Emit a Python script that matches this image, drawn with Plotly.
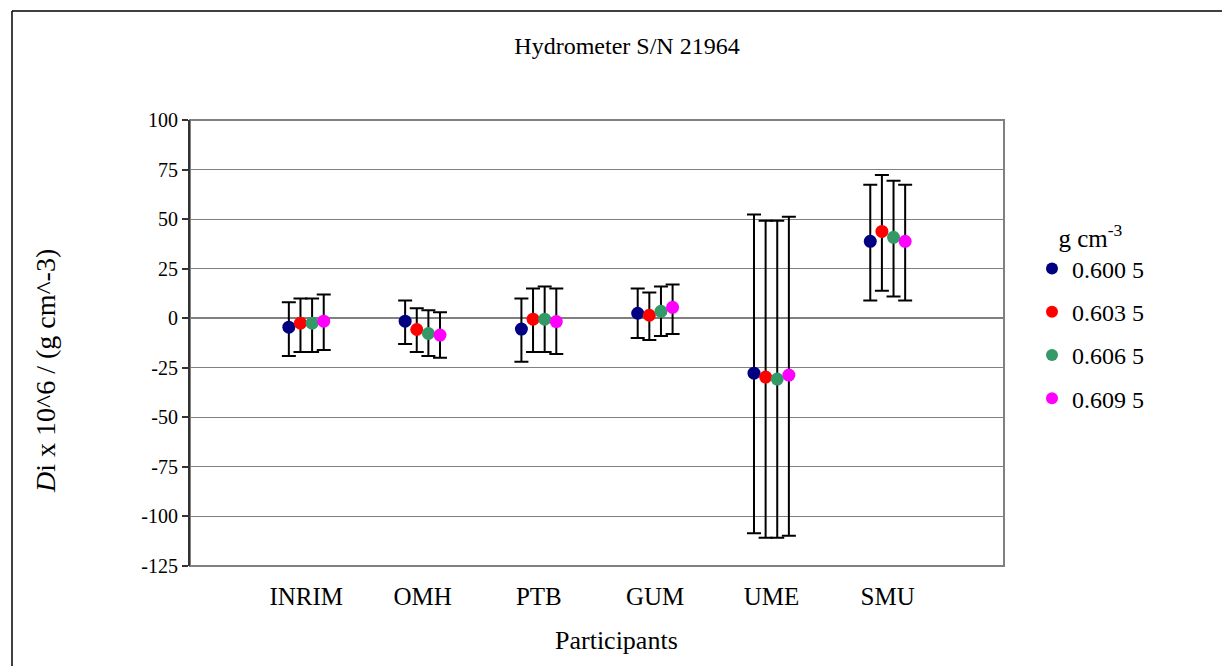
import plotly.graph_objects as go

participants = ["INRIM", "OMH", "PTB", "GUM", "UME", "SMU"]
series_names = ["0.600 5", "0.603 5", "0.606 5", "0.609 5"]
colors = ["#000080", "#FF0000", "#339966", "#FF00FF"]
offsets = [-0.15, -0.05, 0.05, 0.15]

# values (Di x 10^6 / g cm^-3) and read-off error bar ends
val_6005 = [-4.5, -1.5, -5.5, 2.5, -27.7, 38.8]
up_6005 = [8, 9, 10, 15, 52.3, 67.3]
lo_6005 = [-19, -13, -22, -10, -108.5, 8.9]

val_6035 = [-2.5, -5.7, -0.5, 1.5, -29.7, 43.8]
up_6035 = [10, 5, 15, 13, 49.2, 72.3]
lo_6035 = [-17, -17, -17, -11, -110.7, 13.9]

val_6065 = [-2.5, -7.7, -0.5, 3.5, -30.7, 40.8]
up_6065 = [10, 4, 16, 16, 49.2, 69.3]
lo_6065 = [-17, -19, -17, -9, -110.7, 10.9]

val_6095 = [-1.5, -8.5, -1.7, 5.5, -28.7, 38.8]
up_6095 = [12, 3, 15, 17, 51.2, 67.3]
lo_6095 = [-16, -20, -18, -8, -109.7, 8.9]

y_ticks = [100, 75, 50, 25, 0, -25, -50, -75, -100, -125]
y_tick_labels = ["100", "75", "50", "25", "0", "-25", "-50", "-75", "-100", "-125"]

vals = [val_6005, val_6035, val_6065, val_6095]
ups = [up_6005, up_6035, up_6065, up_6095]
los = [lo_6005, lo_6035, lo_6065, lo_6095]

FONT = "Liberation Serif, Times New Roman, DejaVu Serif, serif"

# plot area in pixels
L, R, T, B = 190, 1004, 120, 566
W, H = 1222, 666
def px(x):
    return (x - L) / (R - L)
def py(y):
    return (B - y) / (B - T)

fig = go.Figure()
for i in range(4):
    xs = [k + 1 + offsets[i] for k in range(len(participants))]
    fig.add_trace(go.Scatter(
        x=xs, y=vals[i], mode="markers", name=series_names[i],
        legendgroup=series_names[i],
        marker=dict(color=colors[i], size=13, line=dict(width=0)),
        error_y=dict(type="data", symmetric=False,
                     array=[u - v for u, v in zip(ups[i], vals[i])],
                     arrayminus=[v - l for v, l in zip(vals[i], los[i])],
                     color="black", thickness=2, width=7),
    ))

fig.update_layout(
    width=W, height=H,
    margin=dict(l=L, r=W - R, t=T, b=H - B, autoexpand=False),
    paper_bgcolor="white", plot_bgcolor="white",
    font=dict(family=FONT, color="black", size=20),
    title=dict(text="Hydrometer S/N 21964", font=dict(size=24, family=FONT),
               x=627 / W, xref="container", xanchor="center",
               y=1 - 46 / H, yref="container", yanchor="middle"),
    showlegend=True,
    legend=dict(
        title=dict(text="g cm<sup>-3</sup>", font=dict(size=25, family=FONT),
                   side="top center"),
        font=dict(size=24, family=FONT),
        x=px(1032), y=py(214), xanchor="left", yanchor="top",
        xref="paper", yref="paper",
        tracegroupgap=9, itemsizing="constant",
        bgcolor="rgba(0,0,0,0)",
    ),
    xaxis=dict(range=[0, 7], tickmode="array", tickvals=[1, 2, 3, 4, 5, 6],
               ticktext=participants, ticks="", showgrid=False, zeroline=False,
               showline=False, tickfont=dict(size=25, family=FONT),
               ticklabelstandoff=13, fixedrange=True),
    yaxis=dict(range=[-125, 100], tickmode="array", tickvals=y_ticks,
               ticktext=y_tick_labels,
               showgrid=True, gridcolor="#808080", gridwidth=1.2,
               zeroline=True, zerolinecolor="#808080", zerolinewidth=1.5,
               showline=True, linecolor="#333333", linewidth=2,
               ticks="outside", ticklen=6, tickcolor="#333333", tickwidth=1.5,
               tickfont=dict(size=20, family=FONT), fixedrange=True),
    shapes=[
        dict(type="rect", xref="paper", yref="paper", x0=0, x1=1, y0=0, y1=1,
             line=dict(color="#808080", width=2), layer="below"),
        dict(type="line", xref="paper", yref="paper",
             x0=px(12), x1=px(12), y0=py(H + 5), y1=py(11),
             line=dict(color="black", width=1.5)),
        dict(type="line", xref="paper", yref="paper",
             x0=px(12), x1=px(W + 5), y0=py(11), y1=py(11),
             line=dict(color="black", width=1.5)),
    ],
    annotations=[
        dict(text="<i>D</i>i x 10^6 / (g cm^-3)", xref="paper", yref="paper",
             x=px(45), y=py(371), textangle=-90, showarrow=False,
             xanchor="center", yanchor="middle",
             font=dict(size=28, family=FONT)),
        dict(text="Participants", xref="paper", yref="paper",
             x=px(616), y=py(640), showarrow=False,
             xanchor="center", yanchor="middle",
             font=dict(size=26, family=FONT)),
    ],
)

fig.write_html("out.html")
